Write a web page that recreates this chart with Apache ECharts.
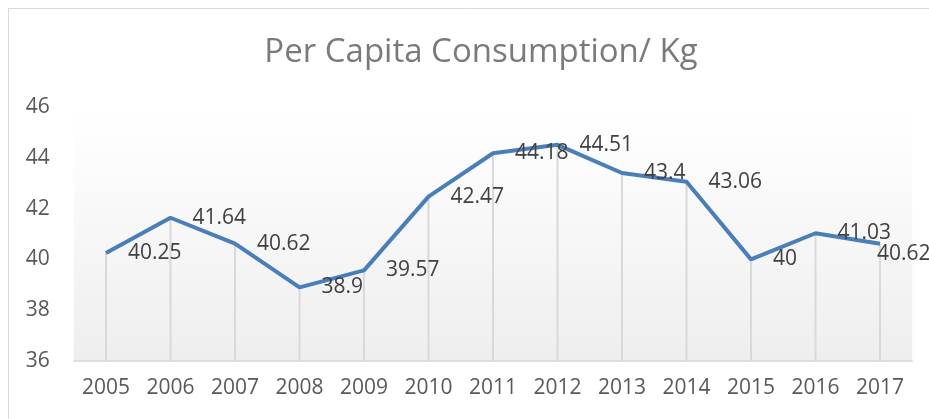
<!DOCTYPE html>
<html>
<head>
<meta charset="utf-8">
<script src="https://cdn.jsdelivr.net/npm/echarts@6/dist/echarts.min.js"></script>
<style>html,body{margin:0;padding:0;background:#fff}#c{width:929px;height:419px}</style>
</head>
<body>
<div id="c"></div>
<script>
const years = ['2005','2006','2007','2008','2009','2010','2011','2012','2013','2014','2015','2016','2017'];
const consumption = [40.25, 41.64, 40.62, 38.9, 39.57, 42.47, 44.18, 44.51, 43.4, 43.06, 40, 41.03, 40.62];
const yMin = 36, yMax = 46, yStep = 2;
const titleText = 'Per Capita Consumption/ Kg';

const chart = echarts.init(document.getElementById('c'), null, {renderer: 'canvas'});
const font = '"Open Sans", "Liberation Sans", Arial, sans-serif';
const W = 929;
chart.setOption({
  animation: false,
  backgroundColor: '#ffffff',
  graphic: [{
    type: 'rect', shape: {x: 8.5, y: 8.5, width: 940, height: 430},
    style: {fill: 'none', stroke: '#d9d9d9', lineWidth: 1}, silent: true, z: -10
  }],
  title: {
    text: titleText, left: 476, top: 31, textAlign: 'center',
    textStyle: {fontFamily: font, fontSize: 33, fontWeight: 'normal', color: '#7a7a7a'}
  },
  grid: {
    left: 73.75, right: 16.75, top: 107, bottom: 58, show: true, borderWidth: 0,
    backgroundColor: {type: 'linear', x: 0, y: 0, x2: 0, y2: 1,
      colorStops: [{offset: 0, color: '#ffffff'}, {offset: 0.15, color: '#fdfdfd'}, {offset: 1, color: '#eeeeee'}]}
  },
  xAxis: {
    type: 'category', data: years, boundaryGap: true,
    axisLine: {show: true, lineStyle: {color: '#d9d9d9', width: 1.5}},
    axisTick: {show: false},
    axisLabel: {fontFamily: font, fontSize: 21, color: '#595959', margin: 17}
  },
  yAxis: {
    type: 'value', min: yMin, max: yMax, interval: yStep,
    axisLine: {show: false}, axisTick: {show: false}, splitLine: {show: false},
    axisLabel: {fontFamily: font, fontSize: 21, color: '#595959', margin: 24}
  },
  series: [
    {
      type: 'bar', data: consumption, barWidth: 2, silent: true,
      itemStyle: {color: '#d9d9d9'}, z: 1
    },
    {
      type: 'line', data: consumption, symbol: 'circle', symbolSize: 0, showSymbol: true, z: 3,
      itemStyle: {color: '#4a7ebb'},
      lineStyle: {color: '#4a7ebb', width: 4},
      label: {show: true, position: 'right', distance: 22,
        fontFamily: font, fontSize: 21, color: '#404040'},
      labelLayout: function (p) {
        const r = p.labelRect;
        if (r.x + r.width > W) return {x: r.x - 25};
        return {};
      }
    }
  ]
});
</script>
</body>
</html>
